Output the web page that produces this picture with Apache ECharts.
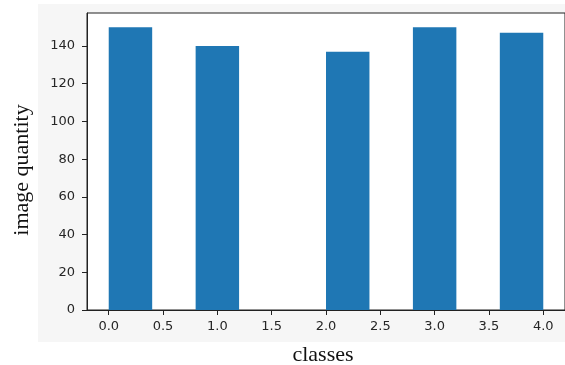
<!DOCTYPE html>
<html>
<head>
<meta charset="utf-8">
<script src="https://cdn.jsdelivr.net/npm/echarts@6/dist/echarts.min.js"></script>
<style>
html,body{margin:0;padding:0;background:#fff;}
#chart{width:565px;height:365px;}
</style>
</head>
<body>
<div id="chart"></div>
<script>
// histogram bins (left edge, right edge) and counts
const binStarts = [0.0, 0.8, 2.0, 2.8, 3.6];
const binEnds   = [0.4, 1.2, 2.4, 3.2, 4.0];
const counts    = [150, 140, 137, 150, 147];
const xTickValues = [0.0, 0.5, 1.0, 1.5, 2.0, 2.5, 3.0, 3.5, 4.0];
const yTickValues = [0, 20, 40, 60, 80, 100, 120, 140];
const xTitle = 'classes';
const yTitle = 'image quantity';

const data = binStarts.map((s, i) => [s, binEnds[i], counts[i]]);

const chart = echarts.init(document.getElementById('chart'), null, {renderer: 'canvas'});
const labelStyle = {color: '#262626', fontFamily: 'DejaVu Sans', fontSize: 13};
chart.setOption({
  animation: false,
  backgroundColor: '#ffffff',
  graphic: [
    {type: 'rect', z: -10, shape: {x: 38, y: 4, width: 530, height: 338}, style: {fill: '#f6f6f6'}},
    {type: 'text', x: 323, y: 355, style: {text: xTitle, font: '22px "Liberation Serif"', fill: '#111', align: 'center', verticalAlign: 'middle'}},
    {type: 'text', x: 22, y: 170, rotation: Math.PI / 2, style: {text: yTitle, font: '22px "Liberation Serif"', fill: '#111', align: 'center', verticalAlign: 'middle'}}
  ],
  grid: {left: 87, top: 13, right: -4, bottom: 55, show: true, backgroundColor: '#ffffff', borderColor: '#222', borderWidth: 1},
  xAxis: {
    type: 'value', min: -0.2, max: 4.2,
    axisLine: {show: true, onZero: false, lineStyle: {color: '#222'}},
    splitLine: {show: false},
    axisTick: {show: true, length: 5, lineStyle: {color: '#222'}, customValues: xTickValues},
    axisLabel: Object.assign({margin: 10, customValues: xTickValues, formatter: v => v.toFixed(1)}, labelStyle)
  },
  yAxis: {
    type: 'value', min: 0, max: 157.5,
    axisLine: {show: true, onZero: false, lineStyle: {color: '#222'}},
    splitLine: {show: false},
    axisTick: {show: true, length: 5, lineStyle: {color: '#222'}, customValues: yTickValues},
    axisLabel: Object.assign({margin: 12, customValues: yTickValues}, labelStyle)
  },
  series: [{
    type: 'custom',
    data: data,
    encode: {x: [0, 1], y: 2},
    renderItem: function (params, api) {
      const p0 = api.coord([api.value(0), api.value(2)]);
      const p1 = api.coord([api.value(1), 0]);
      return {
        type: 'rect',
        shape: {x: p0[0], y: p0[1], width: p1[0] - p0[0], height: p1[1] - p0[1]},
        style: {fill: '#1f77b4'}
      };
    }
  }]
});
</script>
</body>
</html>
